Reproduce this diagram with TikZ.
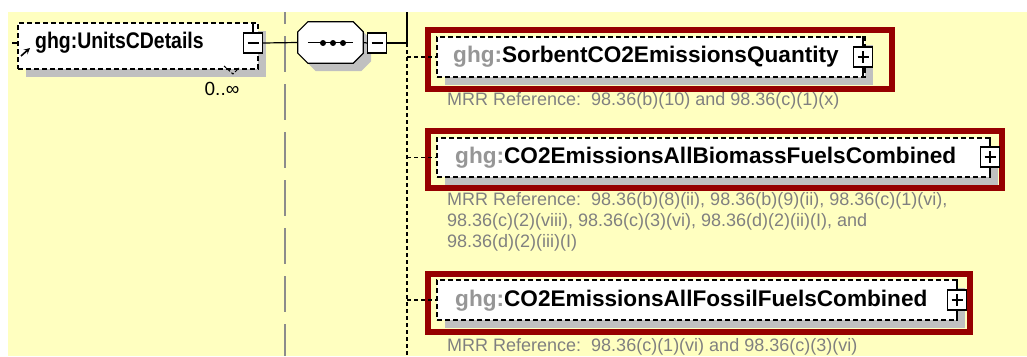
\documentclass[tikz,border=0pt]{standalone}
\usepackage{fontspec}
\setmainfont{Liberation Sans}
\usetikzlibrary{shadows}
\definecolor{bgyellow}{RGB}{255,255,192}
\definecolor{framered}{RGB}{150,0,0}
\definecolor{shadowgray}{RGB}{192,192,192}
\definecolor{refgray}{RGB}{128,128,128}
\definecolor{pfxgray}{RGB}{150,150,150}
\definecolor{guidegray}{RGB}{140,140,140}
\newcommand{\ghgpfx}{\textcolor{pfxgray}{ghg:}}

\begin{document}
\begin{tikzpicture}[x=1pt,y=-1pt,
  boxshadow/.style={drop shadow={shadow xshift=8pt, shadow yshift=-8pt, fill=shadowgray, opacity=1}},
  elbox/.style={draw, line width=1.2pt, dash pattern=on 5pt off 3pt, fill=white, inner sep=0pt, boxshadow},
  redframe/.style={draw=framered, line width=6pt, inner sep=0pt},
  minusbox/.style={draw, fill=white, line width=1.2pt, minimum width=19pt, minimum height=20pt, inner sep=0pt,
    path picture={\draw[line width=1.2pt] ([xshift=4pt]path picture bounding box.west) -- ([xshift=-4pt]path picture bounding box.east);}},
  plusbox/.style={minusbox,
    path picture={\draw[line width=1.2pt] ([xshift=4pt]path picture bounding box.west) -- ([xshift=-4pt]path picture bounding box.east);
      \draw[line width=1.2pt] ([yshift=-4pt]path picture bounding box.north) -- ([yshift=4pt]path picture bounding box.south);}},
  nametext/.style={anchor=west, inner sep=0pt, font=\fontsize{22.6}{26}\selectfont\bfseries},
  reftext/.style={anchor=north west, inner sep=0pt, align=left, text=refgray, font=\fontsize{18}{21}\selectfont},
  forkline/.style={line width=1.3pt, dash pattern=on 4pt off 3pt}]
\useasboundingbox (0,0) rectangle (1027,356);
\fill[bgyellow] (8,12) rectangle (1027,356);

\coordinate (guidetop) at (285,12);
\coordinate (guidebot) at (285,356);
\draw[guidegray, line width=1.5pt, dash pattern=on 36pt off 12pt, dash phase=24pt] (guidetop) -- (guidebot);

% parent element
\node[elbox, minimum width=240, minimum height=46] (units) at (138,46) {};
\node[nametext] (unitsname) at (35,43) {\scalebox{0.86}[1]{ghg:UnitsCDetails}};
\node[minusbox] (unitsminus) at (253,43) {};
\draw[line width=1.2pt] (unitsminus.north) -- (unitsminus.north |- units.north);
\coordinate (unitsin) at (12,43);
\draw[line width=1.2pt] (unitsin) -- (units.west |- unitsin);
\coordinate (refa) at (21,56);
\coordinate (refb) at (30,48);
\draw[-stealth, line width=1.6pt] (refa) -- (refb);
\coordinate (occa) at (224,66);
\coordinate (occb) at (233,74);
\coordinate (occc) at (239,68);
\draw[line width=1pt, dash pattern=on 3pt off 2pt] (occa) -- (occb) -- (occc);
\node[font=\fontsize{19}{22}\selectfont] (occurs) at (222,89) {0..∞};

% sequence
\node[minimum width=65pt, minimum height=41pt, inner sep=0pt] (seq) at (330.5,42.5) {};
\path[draw, fill=white, line width=1.2pt, boxshadow]
  ([xshift=10pt]seq.north west) -- ([xshift=-10pt]seq.north east) -- ([yshift=-10pt]seq.north east)
  -- ([yshift=10pt]seq.south east) -- ([xshift=-10pt]seq.south east) -- ([xshift=10pt]seq.south west)
  -- ([yshift=10pt]seq.south west) -- ([yshift=-10pt]seq.north west) -- cycle;
\draw[line width=1.2pt] ([xshift=10pt]seq.west) -- ([xshift=-10pt]seq.east);
\foreach \dx in {323,333,343}
  \fill (\dx,43) circle (3pt);
\node[minusbox] (seqminus) at (377,43) {};
\draw[line width=1.2pt] (unitsminus.east) -- (seq.west);
\draw[line width=1.2pt] (seq.east) -- (seqminus.west);

\coordinate (forktop) at (407,12);
\coordinate (fork) at (407,43);
\coordinate (forkbot) at (407,356);
\draw[line width=1.2pt] (seqminus.east) -- (fork) -- (forktop);
\draw[forkline] (fork) -- (forkbot);

% children
\node[elbox, minimum width=428, minimum height=40] (sorbent) at (651,57) {};
\node[redframe, minimum width=464, minimum height=59] (sorbentframe) at (660,59.5) {};
\node[nametext] (sorbentname) at (453,57) {\ghgpfx SorbentCO2EmissionsQuantity};
\node[plusbox] (sorbentplus) at (863,57) {};
\draw[line width=1.2pt] (sorbentplus.north) -- (sorbentplus.north |- sorbent.north);
\draw[line width=1.2pt] (sorbentplus.south) -- (sorbentplus.south |- sorbent.south);
\node[reftext] (sorbentref) at (447,92) {MRR Reference:\ \ 98.36(b)(10) and 98.36(c)(1)(x)};
\draw[forkline] (fork |- sorbent.west) -- (sorbent.west);

\node[elbox, minimum width=553, minimum height=39] (biomass) at (713.5,157.5) {};
\node[redframe, minimum width=574, minimum height=57] (biomassframe) at (715,159) {};
\node[nametext] (biomassname) at (455,158) {\ghgpfx CO2EmissionsAllBiomassFuelsCombined};
\node[plusbox] (biomassplus) at (990,157) {};
\draw[line width=1.2pt] (biomassplus.north) -- (biomassplus.north |- biomass.north);
\draw[line width=1.2pt] (biomassplus.south) -- (biomassplus.south |- biomass.south);
\node[reftext] (biomassref) at (447,192) {MRR Reference:\ \ 98.36(b)(8)(ii), 98.36(b)(9)(ii), 98.36(c)(1)(vi),\\
  98.36(c)(2)(viii), 98.36(c)(3)(vi), 98.36(d)(2)(ii)(I), and\\
  98.36(d)(2)(iii)(I)};
\draw[forkline] (fork |- biomass.west) -- (biomass.west);

\node[elbox, minimum width=520, minimum height=40] (fossil) at (697,300) {};
\node[redframe, minimum width=542, minimum height=58] (fossilframe) at (699,303) {};
\node[nametext] (fossilname) at (455,301) {\ghgpfx CO2EmissionsAllFossilFuelsCombined};
\node[plusbox] (fossilplus) at (957,300) {};
\draw[line width=1.2pt] (fossilplus.north) -- (fossilplus.north |- fossil.north);
\draw[line width=1.2pt] (fossilplus.south) -- (fossilplus.south |- fossil.south);
\node[reftext] (fossilref) at (447,338) {MRR Reference:\ \ 98.36(c)(1)(vi) and 98.36(c)(3)(vi)};
\draw[forkline] (fork |- fossil.west) -- (fossil.west);
\end{tikzpicture}
\end{document}
